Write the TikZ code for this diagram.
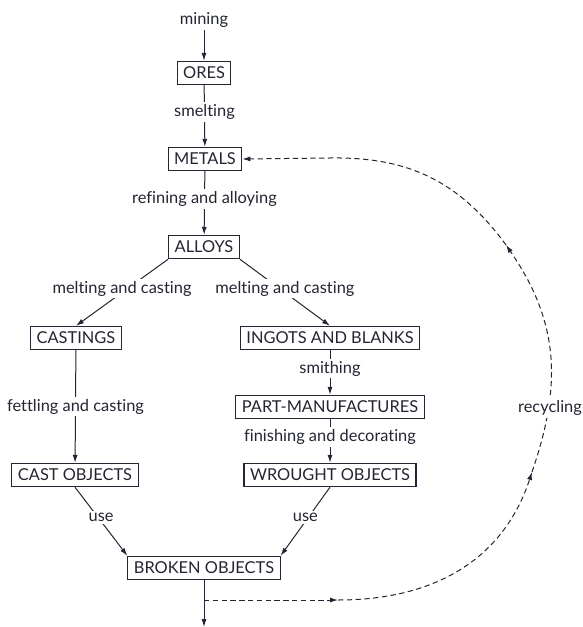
\documentclass[tikz,border=0pt]{standalone}
\usepackage{fontspec}
\setmainfont{Lato}[Ligatures=NoCommon]
\usetikzlibrary{arrows.meta}
\definecolor{ink}{RGB}{35,38,50}
\tikzset{
  stage/.style={draw=ink,text=ink,line width=.8pt,inner xsep=4.5pt,minimum height=17.5pt,font=\fontsize{12.3}{14}\selectfont},
  proc/.style={fill=white,text=ink,inner sep=1.5pt,font=\fontsize{12.3}{14}\selectfont},
  onflow/.style={proc,yshift=3pt},
  flow/.style={draw=ink,line width=.75pt,-{Latex[length=6pt,width=3.8pt]}},
  recyc/.style={flow,dash pattern=on 4pt off 2.6pt}
}
\begin{document}
\begin{tikzpicture}[x=.75pt,y=-.75pt]
\useasboundingbox (0,0) rectangle (582,627);
% main chain
\node[proc] (mine) at (204,20) {mining};
\node[stage] (ores) at (204,73) {ORES};
\node[stage] (metals) at (205,159) {METALS};
\node[stage] (alloys) at (204,247) {ALLOYS};
% cast branch
\node[stage] (castings) at (76,338) {CASTINGS};
\node[stage] (cast) at (75,475) {CAST OBJECTS};
% wrought branch
\node[stage] (ingots) at (330,338) {INGOTS AND BLANKS};
\node[stage] (parts) at (330,407) {PART-MANUFACTURES};
\node[stage] (wrought) at (330,475) {WROUGHT OBJECTS};
\node[stage] (broken) at (204,568) {BROKEN OBJECTS};
\coordinate (split) at (204,600);
\coordinate (loss) at (204,627);
\draw[flow](mine)--(ores);
\draw[flow](ores)--node[onflow]{smelting}(metals);
\draw[flow](metals)--node[onflow]{refining and alloying}(alloys);
\draw[flow](alloys.south west)--node[onflow]{melting and casting}(castings.north);
\draw[flow](alloys.south east)--node[onflow]{melting and casting}(ingots.north);
\draw[flow](castings)--node[proc]{fettling and casting}(cast);
\draw[flow](ingots)--node[onflow]{smithing}(parts);
\draw[flow](parts)--node[onflow]{finishing and decorating}(wrought);
\draw[flow](cast.south)--node[onflow]{use}(broken.north west);
\draw[flow](wrought.south)--node[onflow]{use}(broken.north east);
\draw[flow](broken)--(loss);
% recycling loop
\coordinate (r1) at (338,600);
\coordinate (r2) at (532,472);
\coordinate (r3) at (506,245);
\draw[recyc](split)--(r1);
\draw[recyc](r1)..controls(440,600)and(505,555)..(r2);
\draw[recyc](r2)..controls(560,390)and(562,326)..(r3);
\draw[recyc](r3)..controls(455,175)and(400,157)..(330,158)--(metals.east);
\node[proc] (recycling) at (550,408) {recycling};
\end{tikzpicture}
\end{document}
